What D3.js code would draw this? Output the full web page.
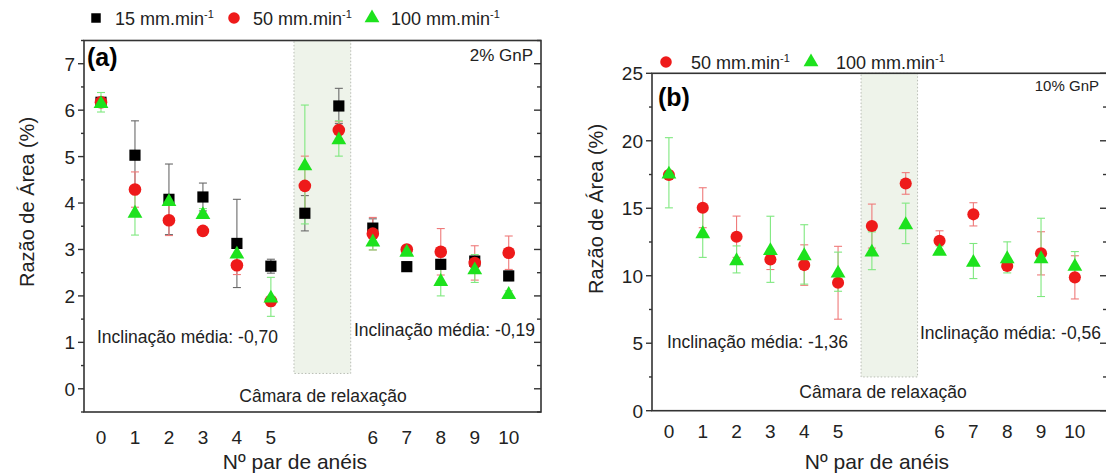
<!DOCTYPE html>
<html>
<head>
<meta charset="utf-8">
<script src="https://cdn.jsdelivr.net/npm/d3@7"></script>
<style>
  body { margin: 0; background: #fff; }
  svg { display: block; font-family: "Liberation Sans", Arial, sans-serif; }
</style>
</head>
<body>
<div id="chart"></div>
<script>
// ring categories, the two "R" slots are the relaxation chamber (no tick label)
const categories = ["0", "1", "2", "3", "4", "5", "R1", "R2", "6", "7", "8", "9", "10"];

// panel (a) 2% GnP
const a15 = [6.17, 5.03, 4.08, 4.13, 3.13, 2.64, 3.78, 6.09, 3.46, 2.63, 2.68, 2.75, 2.43];
const a15Err = [0.1, 0.74, 0.76, 0.3, 0.95, 0.15, 0.38, 0.38, 0.2, 0.1, 0.1, 0.1, 0.1];
const a50 = [6.17, 4.29, 3.63, 3.40, 2.66, 1.89, 4.37, 5.57, 3.34, 3.00, 2.95, 2.71, 2.93];
const a50Err = [0.1, 0.38, 0.33, 0.05, 0.2, 0.1, 0.64, 0.18, 0.35, 0.05, 0.5, 0.37, 0.36];
const a100 = [6.17, 3.81, 4.06, 3.78, 2.93, 1.98, 4.83, 5.39, 3.19, 2.97, 2.34, 2.59, 2.06];
const a100Err = [0.21, 0.5, 0.1, 0.1, 0.1, 0.42, 1.28, 0.38, 0.2, 0.05, 0.34, 0.3, 0.05];

// panel (b) 10% GnP
const b50 = [17.46, 15.04, 12.89, 11.21, 10.79, 9.48, 13.68, 16.84, 12.59, 14.55, 10.72, 11.66, 9.88];
const b50Err = [0.3, 1.48, 1.53, 0.75, 1.5, 2.7, 1.63, 0.8, 0.74, 0.86, 0.3, 1.6, 1.6];
const b100 = [17.63, 13.21, 11.21, 11.96, 11.58, 10.30, 11.85, 13.88, 11.9, 11.09, 11.36, 11.36, 10.79];
const b100Err = [2.6, 1.85, 1.0, 2.45, 2.2, 1.45, 1.4, 1.5, 0.3, 1.3, 1.15, 2.9, 1.0];

const yTicksA = [0, 1, 2, 3, 4, 5, 6, 7];
const yTicksB = [0, 5, 10, 15, 20, 25];

const BLACK = "#000";
const RED = "#ee1a1a";
const GREEN = "#1de21d";

const W = 1106, H = 473;

const svg = d3.select("#chart").append("svg")
  .attr("width", W)
  .attr("height", H);

function drawPanel(p) {
  const g = svg.append("g");

  const x = d3.scaleLinear().domain([-0.5, 12.95]).range([p.left, p.right]);
  const y = d3.scaleLinear().domain(p.yDomain).range([p.bottom, p.top]);
  const xi = (i) => x(i);

  // relaxation chamber band
  g.append("rect")
    .attr("x", x(5.68))
    .attr("width", x(7.35) - x(5.68))
    .attr("y", p.top)
    .attr("height", y(p.bandBottom) - p.top)
    .attr("fill", "#eef3ea")
    .attr("stroke", "#b9bdb5")
    .attr("stroke-dasharray", "1.5,2")
    .attr("stroke-width", 1);

  // frame
  g.append("rect")
    .attr("x", p.left).attr("y", p.top)
    .attr("width", p.right - p.left).attr("height", p.bottom - p.top)
    .attr("fill", "none").attr("stroke", "#333").attr("stroke-width", 1.6);

  // left axis (outward) and right (inward) ticks
  const minor = d3.range(p.yDomain[0], p.yDomain[1] + 0.001, p.minorStep)
    .filter(v => v > p.yDomain[0] - 0.001);
  minor.forEach(v => {
    const isMajor = p.yTicks.some(t => Math.abs(t - v) < 1e-6);
    const len = isMajor ? 6 : 3;
    g.append("line")
      .attr("x1", p.left - len).attr("x2", p.left)
      .attr("y1", y(v)).attr("y2", y(v))
      .attr("stroke", "#333").attr("stroke-width", 1.4);
    g.append("line")
      .attr("x1", p.right - len - 1).attr("x2", p.right)
      .attr("y1", y(v)).attr("y2", y(v))
      .attr("stroke", "#333").attr("stroke-width", 1.4);
  });

  g.selectAll("text.ytick")
    .data(p.yTicks)
    .enter().append("text")
    .attr("x", p.left - 9)
    .attr("y", d => y(d) + 7)
    .attr("text-anchor", "end")
    .style("font-size", "19px")
    .attr("fill", "#222")
    .text(d => d);

  // x tick labels (no tick marks)
  g.selectAll("text.xtick")
    .data(categories.map((c, i) => ({ c, i })).filter(d => d.c[0] !== "R"))
    .enter().append("text")
    .attr("x", d => xi(d.i))
    .attr("y", p.xLabelY)
    .attr("text-anchor", "middle")
    .style("font-size", "19px")
    .attr("fill", "#222")
    .text(d => d.c);

  // axis titles
  g.append("text")
    .attr("x", p.xTitleX).attr("y", 469)
    .attr("text-anchor", "middle")
    .style("font-size", "21px")
    .attr("fill", "#222")
    .text("Nº par de anéis");

  g.append("text")
    .attr("transform", `translate(${p.yTitleX},${p.yTitleY}) rotate(-90)`)
    .attr("text-anchor", "middle")
    .style("font-size", "20px")
    .attr("fill", "#222")
    .text("Razão de Área (%)");

  // annotations
  g.append("text")
    .attr("x", p.tagX).attr("y", p.tagY)
    .style("font-size", "25px").style("font-weight", "bold")
    .text(p.tag);
  g.append("text")
    .attr("x", p.gnpX).attr("y", p.gnpY)
    .attr("text-anchor", "end")
    .style("font-size", p.gnpSize + "px")
    .attr("fill", "#222")
    .text(p.gnp);
  g.append("text")
    .attr("x", p.slope1X).attr("y", p.slope1Y)
    .style("font-size", "17.5px").attr("fill", "#222")
    .text(p.slope1);
  g.append("text")
    .attr("x", p.slope2X).attr("y", p.slope2Y)
    .style("font-size", "17.5px").attr("fill", "#222")
    .text(p.slope2);
  g.append("text")
    .attr("x", p.chamberX).attr("y", p.chamberY)
    .attr("text-anchor", "middle")
    .style("font-size", "17.5px").attr("fill", "#222")
    .text("Câmara de relaxação");

  // series: error bars then markers
  p.series.forEach(s => {
    const pts = s.values.map((v, i) => ({ i, v, e: s.errs[i] }));
    const eg = g.append("g")
      .attr("stroke", s.errColor)
      .attr("stroke-width", 1.1);
    pts.forEach(d => {
      eg.append("line")
        .attr("x1", xi(d.i)).attr("x2", xi(d.i))
        .attr("y1", y(d.v - d.e)).attr("y2", y(d.v + d.e));
      [d.v - d.e, d.v + d.e].forEach(t => {
        eg.append("line")
          .attr("x1", xi(d.i) - 4).attr("x2", xi(d.i) + 4)
          .attr("y1", y(t)).attr("y2", y(t));
      });
    });
  });
  p.series.forEach(s => {
    const sym = d3.symbol().type(s.shape).size(s.size);
    g.append("g").selectAll("path")
      .data(s.values.map((v, i) => ({ i, v })))
      .enter().append("path")
      .attr("d", sym)
      .attr("transform", d => `translate(${xi(d.i)},${y(d.v) + (s.shape === d3.symbolTriangle ? 1.5 : 0)})`)
      .attr("fill", s.color);
  });

  // legend
  const lg = g.append("g");
  let lx = p.legendX;
  p.series.forEach(s => {
    lg.append("path")
      .attr("d", d3.symbol().type(s.shape).size(s.legendSize)())
      .attr("transform", `translate(${lx},${p.legendY})`)
      .attr("fill", s.color);
    const t = lg.append("text")
      .attr("x", lx + p.legendGap).attr("y", p.legendY + 6.5)
      .style("font-size", "18px")
      .attr("fill", "#222");
    t.append("tspan").text(s.name + " mm.min");
    t.append("tspan").attr("dy", -7).style("font-size", "11px").text("-1");
    lx += s.legendStep;
  });
}

drawPanel({
  left: 84, right: 541, top: 40.5, bottom: 412,
  yDomain: [-0.5, 7.5], yTicks: yTicksA, minorStep: 0.5,
  bandBottom: 0.33,
  xLabelY: 444, xTitleX: 295, yTitleX: 34, yTitleY: 202,
  tag: "(a)", tagX: 87, tagY: 66,
  gnp: "2% GnP", gnpX: 533, gnpY: 61, gnpSize: 17,
  slope1: "Inclinação média: -0,70", slope1X: 97, slope1Y: 343,
  slope2: "Inclinação média: -0,19", slope2X: 354, slope2Y: 336,
  chamberX: 323, chamberY: 402,
  legendX: 96, legendY: 18, legendGap: 19,
  series: [
    { name: "15", values: a15, errs: a15Err, color: BLACK, errColor: "#6a6a6a", shape: d3.symbolSquare, size: 125, legendSize: 90, legendStep: 138 },
    { name: "50", values: a50, errs: a50Err, color: RED, errColor: "#ef7a7a", shape: d3.symbolCircle, size: 125, legendSize: 105, legendStep: 138 },
    { name: "100", values: a100, errs: a100Err, color: GREEN, errColor: "#7fe87f", shape: d3.symbolTriangle, size: 95, legendSize: 95, legendStep: 138 }
  ]
});

drawPanel({
  left: 652, right: 1107, top: 73.3, bottom: 410.7,
  yDomain: [0, 25], yTicks: yTicksB, minorStep: 2.5,
  bandBottom: 2.5,
  xLabelY: 438, xTitleX: 877, yTitleX: 603, yTitleY: 209,
  tag: "(b)", tagX: 658, tagY: 106,
  gnp: "10% GnP", gnpX: 1099, gnpY: 91, gnpSize: 15,
  slope1: "Inclinação média: -1,36", slope1X: 667, slope1Y: 348,
  slope2: "Inclinação média: -0,56", slope2X: 920, slope2Y: 339,
  chamberX: 883, chamberY: 398,
  legendX: 666, legendY: 62, legendGap: 25,
  series: [
    { name: "50", values: b50, errs: b50Err, color: RED, errColor: "#ef7a7a", shape: d3.symbolCircle, size: 115, legendSize: 105, legendStep: 145 },
    { name: "100", values: b100, errs: b100Err, color: GREEN, errColor: "#7fe87f", shape: d3.symbolTriangle, size: 95, legendSize: 95, legendStep: 145 }
  ]
});
</script>
</body>
</html>
